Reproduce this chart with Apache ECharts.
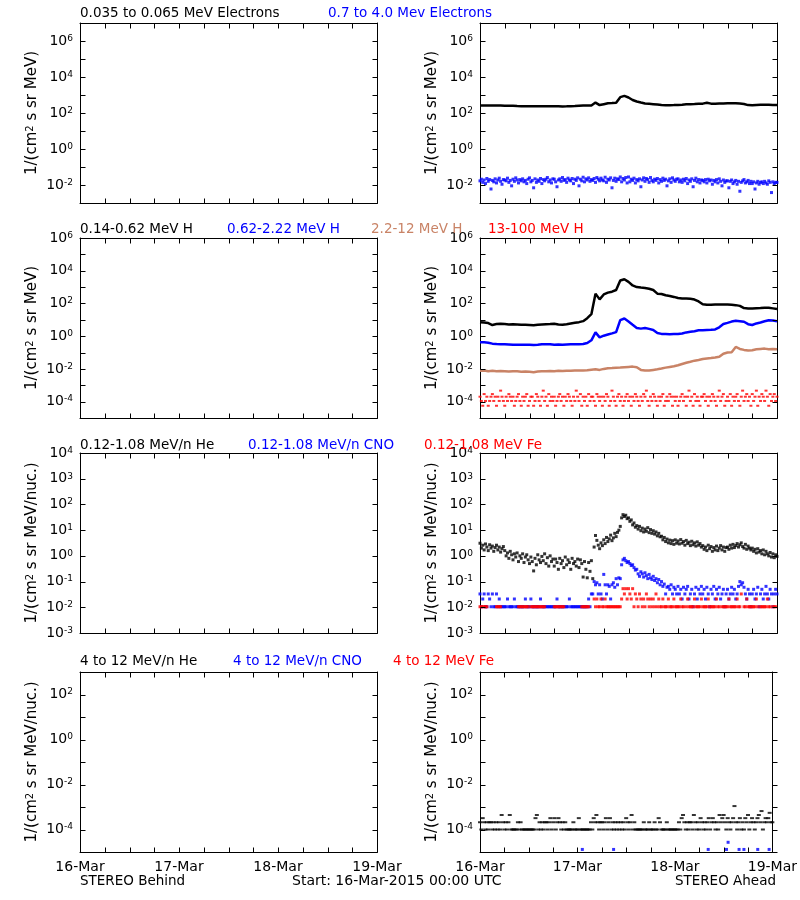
<!DOCTYPE html>
<html><head><meta charset="utf-8">
<script src="https://cdn.jsdelivr.net/npm/echarts@6/dist/echarts.min.js"></script>
<style>html,body{margin:0;padding:0;background:#fff}#chart{width:800px;height:900px}</style>
</head><body><div id="chart"></div>
<script>
// ---------------- DATA ----------------
const dayLabels = ['16-Mar', '17-Mar', '18-Mar', '19-Mar'];
const hoursPerDay = 24;
const xTickHours = [0, 6, 12, 18, 24, 30, 36, 42, 48, 54, 60, 66, 72];

const yTicksRow1 = [1e-3, 1e-2, 1e-1, 1, 1e1, 1e2, 1e3, 1e4, 1e5, 1e6, 1e7];
const yLabelsRow1 = [1e-2, 1, 1e2, 1e4, 1e6];
const yTicksRow2 = [1e-5, 1e-4, 1e-3, 1e-2, 1e-1, 1, 1e1, 1e2, 1e3, 1e4, 1e5, 1e6];
const yLabelsRow2 = [1e-4, 1e-2, 1, 1e2, 1e4, 1e6];
const yTicksRow3 = [1e-3, 1e-2, 1e-1, 1, 1e1, 1e2, 1e3, 1e4];
const yLabelsRow3 = [1e-3, 1e-2, 1e-1, 1, 1e1, 1e2, 1e3, 1e4];
const yTicksRow4 = [1e-5, 1e-4, 1e-3, 1e-2, 1e-1, 1, 1e1, 1e2, 1e3];
const yLabelsRow4 = [1e-4, 1e-2, 1, 1e2];

const yTitleMeV = '1/(cm{s|2} s sr MeV)';
const yTitleNuc = '1/(cm{s|2} s sr MeV/nuc.)';

const titleTexts = [
  ['0.035 to 0.065 MeV Electrons', '0.7 to 4.0 Mev Electrons'],
  ['0.14-0.62 MeV H', '0.62-2.22 MeV H', '2.2-12 MeV H', '13-100 MeV H'],
  ['0.12-1.08 MeV/n He', '0.12-1.08 MeV/n CNO', '0.12-1.08 MeV Fe'],
  ['4 to 12 MeV/n He', '4 to 12 MeV/n CNO', '4 to 12 MeV Fe']
];
const footerTexts = ['STEREO Behind', 'Start: 16-Mar-2015 00:00 UTC', 'STEREO Ahead'];

// STEREO Ahead, hourly samples (hours 0..72)
const elecLo = [
  263,263,263,257,263,257,251,251,251,245,240,240,
  234,240,240,234,234,240,234,234,229,234,240,245,
  251,257,257,263,380,275,309,347,355,372,759,891,
  724,525,437,380,339,324,309,295,275,269,269,275,
  282,288,302,309,316,324,331,372,331,331,339,339,
  347,347,347,339,316,275,269,282,288,288,288,282,
  282];
// 20-minute samples
const elecHi = [
  0.017,0.021,0.014,0.019,0.012,0.023,0.016,0.020,0.006,0.018,0.015,0.022,0.013,0.019,0.024,0.016,0.011,0.020,
  0.019,0.017,0.024,0.014,0.018,0.009,0.021,0.016,0.025,0.019,0.013,0.020,0.017,0.022,0.015,0.018,0.012,0.021,
  0.025,0.015,0.018,0.007,0.022,0.014,0.019,0.016,0.023,0.012,0.020,0.017,0.021,0.026,0.015,0.019,0.013,0.022,
  0.021,0.015,0.008,0.019,0.022,0.016,0.026,0.018,0.020,0.014,0.024,0.019,0.017,0.023,0.012,0.021,0.018,0.025,
  0.009,0.021,0.017,0.027,0.015,0.022,0.019,0.025,0.016,0.020,0.018,0.023,0.014,0.026,0.021,0.017,0.024,0.019,
  0.017,0.027,0.014,0.021,0.019,0.025,0.007,0.018,0.024,0.016,0.022,0.020,0.028,0.015,0.023,0.019,0.026,0.013,
  0.028,0.015,0.021,0.018,0.024,0.013,0.020,0.017,0.022,0.008,0.019,0.025,0.016,0.023,0.020,0.014,0.026,0.018,
  0.015,0.021,0.018,0.023,0.013,0.020,0.016,0.024,0.018,0.021,0.009,0.017,0.022,0.014,0.025,0.019,0.016,0.021,
  0.022,0.015,0.019,0.014,0.021,0.017,0.023,0.012,0.019,0.016,0.022,0.008,0.018,0.024,0.015,0.020,0.013,0.019,
  0.018,0.015,0.020,0.013,0.021,0.017,0.019,0.011,0.018,0.015,0.020,0.013,0.022,0.016,0.009,0.019,0.014,0.017,
  0.017,0.007,0.016,0.019,0.012,0.015,0.018,0.011,0.016,0.0045,0.014,0.017,0.020,0.013,0.015,0.018,0.012,0.016,
  0.012,0.015,0.006,0.013,0.016,0.011,0.014,0.015,0.012,0.016,0.013,0.011,0.017,0.014,0.0038,0.015,0.012,0.014,
  0.014];

// hourly
const hLo = [
  7.2,6.9,6.3,4.8,5.5,5.8,5.5,5.2,5.4,5.2,5.0,5.0,
  4.8,4.6,5.0,5.2,5.4,5.5,5.8,5.2,5.0,5.4,6.0,6.6,
  7.2,8.3,12.6,22,398,178,355,457,525,661,2512,3020,
  2089,1259,1000,933,891,794,661,398,380,316,288,251,
  214,200,200,191,174,132,89,83,83,85,85,85,
  85,83,79,71,52,50,50,51,52,55,54,50,
  46];
const hMid = [
  0.42,0.42,0.40,0.35,0.33,0.32,0.32,0.31,0.30,0.30,0.295,0.30,
  0.30,0.29,0.30,0.32,0.32,0.32,0.30,0.31,0.30,0.31,0.32,0.32,
  0.32,0.33,0.38,0.56,1.7,0.85,1.07,1.26,1.48,1.78,9.5,12,
  7.9,5.0,3.2,2.9,3.2,2.8,2.4,1.58,1.38,1.35,1.32,1.35,
  1.35,1.45,1.7,1.85,2.0,2.3,2.34,2.4,2.45,2.6,3.5,5.5,
  6.5,7.8,8.7,8.2,7.6,5.4,4.8,6.0,6.9,8.1,9.5,9.1,
  8.3];
const hHi = [
  0.0076,0.0079,0.0072,0.0076,0.0071,0.0074,0.0072,0.0069,0.0072,0.0071,0.0068,0.0069,
  0.0066,0.0063,0.0069,0.0072,0.0071,0.0074,0.0072,0.0076,0.0074,0.0078,0.0076,0.0079,
  0.0079,0.0081,0.0083,0.0089,0.0095,0.0087,0.010,0.011,0.0112,0.0117,0.012,0.0126,
  0.0132,0.0138,0.0126,0.0087,0.0079,0.0079,0.0087,0.0095,0.0105,0.012,0.0132,0.0145,
  0.0166,0.020,0.024,0.0275,0.032,0.035,0.040,0.043,0.046,0.050,0.055,0.085,
  0.10,0.105,0.22,0.166,0.145,0.132,0.138,0.158,0.166,0.174,0.158,0.166,
  0.158];
// 20-minute samples
const hVhi = [
  2e-4,1.1e-4,5.6e-5,2.9e-4,1.1e-4,2e-4,5.6e-5,1.1e-4,2e-4,2.9e-4,1.1e-4,2e-4,5.6e-5,2e-4,1.1e-4,4.7e-4,2e-4,1.1e-4,
  5.6e-5,2e-4,1.1e-4,2.9e-4,2e-4,1.1e-4,2e-4,5.6e-5,1.1e-4,2e-4,2.9e-4,1.1e-4,5.6e-5,2e-4,1.1e-4,2e-4,2.9e-4,5.6e-5,
  1.1e-4,2e-4,2e-4,5.6e-5,1.1e-4,2.9e-4,2e-4,1.1e-4,5.6e-5,2e-4,4.7e-4,1.1e-4,2e-4,5.6e-5,2.9e-4,1.1e-4,2e-4,1.1e-4,
  2e-4,5.6e-5,1.1e-4,2e-4,2.9e-4,1.1e-4,2e-4,5.6e-5,2e-4,1.1e-4,2.9e-4,2e-4,1.1e-4,5.6e-5,2e-4,1.1e-4,4.7e-4,2e-4,
  1.1e-4,2.9e-4,5.6e-5,2e-4,1.1e-4,2e-4,5.6e-5,2.9e-4,1.1e-4,2e-4,2e-4,1.1e-4,5.6e-5,2.9e-4,2e-4,1.1e-4,2e-4,5.6e-5,
  2e-4,1.1e-4,2.9e-4,2e-4,5.6e-5,1.1e-4,4.7e-4,2e-4,1.1e-4,5.6e-5,2e-4,2.9e-4,1.1e-4,2e-4,5.6e-5,1.1e-4,2e-4,2.9e-4,
  1.1e-4,2e-4,5.6e-5,2e-4,1.1e-4,2.9e-4,2e-4,1.1e-4,5.6e-5,2e-4,1.1e-4,2.9e-4,2e-4,4.7e-4,1.1e-4,5.6e-5,2e-4,1.1e-4,
  2.9e-4,2e-4,1.1e-4,5.6e-5,2e-4,1.1e-4,2e-4,2.9e-4,5.6e-5,1.1e-4,2e-4,1.1e-4,2.9e-4,2e-4,5.6e-5,2e-4,1.1e-4,2e-4,
  5.6e-5,1.1e-4,2e-4,2.9e-4,1.1e-4,2e-4,5.6e-5,2e-4,4.7e-4,1.1e-4,2e-4,5.6e-5,2.9e-4,1.1e-4,2e-4,1.1e-4,5.6e-5,2e-4,
  2e-4,2.9e-4,1.1e-4,2e-4,5.6e-5,2e-4,1.1e-4,2.9e-4,2e-4,1.1e-4,5.6e-5,2e-4,4.7e-4,1.1e-4,2e-4,2.9e-4,5.6e-5,1.1e-4,
  2e-4,1.1e-4,2.9e-4,5.6e-5,2e-4,1.1e-4,2e-4,2.9e-4,1.1e-4,5.6e-5,2e-4,4.7e-4,1.1e-4,2e-4,2.9e-4,1.1e-4,2e-4,5.6e-5,
  2.9e-4,1.1e-4,2e-4,4.7e-4,5.6e-5,2e-4,1.1e-4,2.9e-4,2e-4,1.1e-4,4.7e-4,2e-4,5.6e-5,2.9e-4,1.1e-4,2e-4,2.9e-4,1.1e-4,
  2e-4];

// 20-minute samples
const heLo = [
  3.1,2.0,2.6,1.7,2.9,2.2,1.6,2.7,2.0,2.4,1.5,2.1,2.6,1.7,2.2,1.4,1.9,2.3,
  1.6,1.0,1.3,0.8,1.5,1.1,0.7,1.2,0.9,1.3,0.6,1.0,0.8,1.2,0.55,0.9,1.1,0.7,
  0.5,0.9,0.6,0.26,0.8,0.45,1.1,0.7,0.55,0.95,0.65,1.2,0.5,0.85,0.4,1.0,0.6,0.75,
  0.4,0.75,0.55,0.3,0.8,0.5,0.65,0.35,0.9,0.45,0.7,0.55,0.3,0.8,0.5,0.6,0.4,0.75,
  0.35,0.7,0.5,0.15,0.6,0.3,0.14,0.55,0.25,0.65,0.13,2.2,6.2,4.0,2.6,1.9,3.2,2.5,
  4.2,3.0,5.2,3.6,4.6,6.4,3.9,5.0,7.5,5.6,8.2,10,14,30,40,34,38,28,
  30,22,25,16,19,13,15,11,14,9.5,12,8.5,11,9,12.5,8,10.5,7.5,
  9.5,7,8.5,6,7.5,5.5,5.8,4.2,5.2,3.6,4.5,3.2,4.1,3.0,3.9,2.8,4.2,3.1,
  3.8,2.9,4.3,3.1,3.6,2.6,4.0,3.0,3.4,2.5,3.7,2.7,3.2,2.4,3.5,2.6,3.0,2.2,
  2.5,1.8,2.2,1.6,2.6,1.9,2.3,1.5,2.1,1.7,2.4,1.6,2.0,2.5,1.7,2.2,1.5,2.1,
  2.2,1.8,2.6,2.0,2.8,2.1,2.5,3.0,2.2,2.7,3.2,2.3,2.0,2.8,1.8,2.4,2.0,1.7,
  2.0,1.5,1.8,1.3,1.9,1.4,1.6,1.2,1.7,1.1,1.5,1.2,1.0,1.35,0.9,1.2,0.85,1.1,
  0.95];
const cnoLo = [
  0.033,0.0105,0.021,0.033,0.0105,0.0105,0.033,0.021,0.0105,0.033,0.0105,0.0105,0.033,0.0105,0.021,0.0105,0.0105,0.0105,
  0.0105,0.0105,0.021,0.0105,0.0105,0.0105,0.0105,0.021,0.0105,0.0105,0.0105,0.0105,0.0105,0.0105,0.0105,0.021,0.0105,0.0105,
  0.0105,0.021,0.0105,0.0105,0.0105,0.0105,0.0105,0.0105,0.021,0.0105,0.0105,0.0105,0.0105,0.0105,0.0105,0.0105,0.0105,0.0105,
  0.0105,0.0105,0.021,0.0105,0.0105,0.0105,0.0105,0.0105,0.0105,0.0105,0.0105,0.021,0.0105,0.0105,0.0105,0.0105,0.0105,0.0105,
  0.0105,0.0105,0.0105,0.0105,0.0105,0.0105,0.0105,0.021,0.0105,0.033,0.033,0.1,0.075,0.09,0.033,0.075,0.033,0.021,
  0.19,0.075,0.033,0.075,0.065,0.021,0.075,0.09,0.06,0.13,0.075,0.14,0.13,0.45,0.7,0.8,0.65,0.55,
  0.6,0.5,0.42,0.45,0.35,0.28,0.3,0.2,0.16,0.24,0.2,0.15,0.22,0.17,0.13,0.19,0.14,0.12,
  0.16,0.11,0.13,0.09,0.12,0.075,0.1,0.065,0.08,0.033,0.06,0.065,0.05,0.075,0.033,0.06,0.05,0.033,
  0.065,0.033,0.05,0.021,0.06,0.033,0.05,0.065,0.021,0.033,0.05,0.0105,0.033,0.06,0.021,0.05,0.033,0.065,
  0.033,0.05,0.021,0.06,0.033,0.0105,0.05,0.033,0.065,0.021,0.05,0.033,0.06,0.021,0.033,0.05,0.0105,0.033,
  0.05,0.021,0.033,0.06,0.033,0.05,0.021,0.033,0.065,0.1,0.075,0.09,0.06,0.033,0.021,0.05,0.033,0.0105,
  0.033,0.05,0.021,0.033,0.06,0.0105,0.033,0.05,0.021,0.033,0.065,0.033,0.021,0.05,0.033,0.0105,0.033,0.05,
  0.033];
const feLo = [
  0.0105,0.0105,0.0105,0.0105,0.0105,0.0105,null,null,null,null,null,null,0.0105,0.0105,0.0105,0.0105,null,null,
  null,null,null,null,null,null,null,null,null,null,0.0105,0.0105,0.0105,0.0105,0.0105,0.0105,0.0105,0.0105,
  null,0.0105,0.0105,0.0105,0.0105,0.0105,0.0105,0.0105,0.0105,0.0105,0.0105,0.0105,null,null,null,null,null,null,
  0.0105,0.0105,0.0105,0.0105,0.0105,0.0105,0.0105,0.0105,null,null,null,null,null,null,null,null,null,null,
  null,null,0.0105,0.0105,0.0105,0.0105,0.0105,0.0105,null,null,null,0.021,0.0105,0.021,0.0105,0.0105,0.021,0.0105,
  0.0105,0.021,0.0105,0.0105,0.0105,0.0105,0.0105,0.0105,0.0105,0.0105,0.0105,0.0105,0.0105,0.021,0.053,0.033,0.053,0.021,
  0.053,0.033,0.021,0.053,0.0105,0.033,0.021,0.0105,0.033,0.021,0.0105,0.021,0.0105,0.033,0.021,0.0105,0.021,0.0105,
  0.021,0.0105,0.033,0.0105,0.021,0.0105,0.0105,0.021,0.0105,0.0105,0.0105,0.021,0.0105,0.0105,0.0105,0.021,0.0105,0.0105,
  0.0105,0.0105,0.021,0.0105,0.0105,null,0.0105,0.021,0.0105,0.0105,0.0105,0.0105,0.021,0.0105,0.0105,0.0105,0.0105,0.021,
  0.0105,0.0105,0.0105,0.0105,0.021,0.0105,0.0105,0.0105,0.0105,0.0105,0.021,0.0105,0.0105,null,0.0105,0.0105,0.0105,0.0105,
  0.0105,0.021,0.0105,0.0105,0.0105,0.0105,0.0105,0.021,0.0105,0.0105,0.033,null,0.0105,0.0105,0.021,0.0105,0.0105,0.0105,
  0.0105,0.0105,0.0105,0.021,0.0105,null,0.0105,0.0105,0.0105,0.0105,0.0105,0.021,0.0105,0.0105,null,0.0105,0.0105,0.0105,
  null];
// 20-minute samples
const he4 = [
  2.1e-4,1e-4,3.2e-4,2.1e-4,1e-4,2.1e-4,1e-4,2.1e-4,2.1e-4,1e-4,2.1e-4,1e-4,2.1e-4,1e-4,2.1e-4,1e-4,4.4e-4,2.1e-4,
  1e-4,2.1e-4,1e-4,2.1e-4,4.4e-4,1e-4,1e-4,1e-4,1e-4,1e-4,2.1e-4,1e-4,2.1e-4,1e-4,1e-4,1e-4,1e-4,1e-4,
  1e-4,1e-4,1e-4,1e-4,1e-4,3.2e-4,4.4e-4,1e-4,2.1e-4,1e-4,2.1e-4,1e-4,2.1e-4,2.1e-4,1e-4,2.1e-4,3.2e-4,1e-4,
  2.1e-4,3.2e-4,1e-4,2.1e-4,3.2e-4,2.1e-4,1e-4,2.1e-4,1e-4,2.1e-4,1e-4,1e-4,1e-4,1e-4,1e-4,2.1e-4,1e-4,1e-4,
  1e-4,3.2e-4,1e-4,1e-4,1e-4,1e-4,1e-4,1e-4,1e-4,1e-4,2.1e-4,1e-4,3.2e-4,2.1e-4,4.4e-4,2.1e-4,1e-4,2.1e-4,
  2.1e-4,1e-4,2.1e-4,3.2e-4,1e-4,2.1e-4,3.2e-4,1e-4,2.1e-4,1e-4,2.1e-4,1e-4,2.1e-4,1e-4,2.1e-4,1e-4,2.1e-4,1e-4,
  3.2e-4,2.1e-4,1e-4,2.1e-4,4.4e-4,1e-4,2.1e-4,1e-4,1e-4,1e-4,1e-4,1e-4,1e-4,2.1e-4,1e-4,1e-4,1e-4,2.1e-4,
  1e-4,1e-4,1e-4,2.1e-4,1e-4,1e-4,3.2e-4,2.1e-4,1e-4,1e-4,1e-4,1e-4,2.1e-4,1e-4,1e-4,1e-4,1e-4,1e-4,
  1e-4,1e-4,1e-4,2.1e-4,1e-4,3.2e-4,4.4e-4,2.1e-4,1e-4,2.1e-4,1e-4,2.1e-4,2.1e-4,1e-4,4.4e-4,2.1e-4,1e-4,2.1e-4,
  1e-4,3.2e-4,2.1e-4,1e-4,2.1e-4,1e-4,2.1e-4,3.2e-4,1e-4,2.1e-4,3.2e-4,2.1e-4,1e-4,2.1e-4,1e-4,4.4e-4,2.1e-4,3.2e-4,
  4.4e-4,2.1e-4,1e-4,3.2e-4,2.1e-4,1e-4,2.1e-4,3.2e-4,1.1e-3,2.1e-4,1e-4,2.1e-4,3.2e-4,1e-4,2.1e-4,1e-4,3.2e-4,2.1e-4,
  4.4e-4,1e-4,2.1e-4,3.2e-4,2.1e-4,1e-4,2.1e-4,3.2e-4,4.4e-4,2.1e-4,6.6e-4,1e-4,2.1e-4,3.2e-4,2.1e-4,3.2e-4,5.5e-4,2.1e-4,
  2.1e-4];
const cno4Hours = [25.2, 32.9, 56.2, 60.7, 61.1, 63.8, 65.0, 68.4, 71.2];
const cno4Vals  = [1.3e-5, 1.3e-5, 1.3e-5, 1.3e-5, 2.7e-5, 1.3e-5, 1.3e-5, 1.3e-5, 1.3e-5];

// ---------------- LAYOUT / STYLE ----------------
const FONT = 'DejaVu Sans';
const BLUE = '#0000ff', RED = '#ff0000', BROWN = '#c98366', BLACK = '#000000';
const rowTops = [23, 238, 453, 672];
const colLefts = [80, 480];
const PW = 297, PH = 180;
const TICK_LEN = 5;
const rowSpecs = [
  { min: 1e-3, max: 1e7, ticks: yTicksRow1, labels: yLabelsRow1, name: yTitleMeV },
  { min: 1e-5, max: 1e6, ticks: yTicksRow2, labels: yLabelsRow2, name: yTitleMeV },
  { min: 1e-3, max: 1e4, ticks: yTicksRow3, labels: yLabelsRow3, name: yTitleNuc },
  { min: 1e-5, max: 1e3, ticks: yTicksRow4, labels: yLabelsRow4, name: yTitleNuc }
];
const titleX = [[80, 328], [80, 227, 371, 488], [80, 248, 424], [80, 233, 393]];
const titleColors = [[BLACK, BLUE], [BLACK, BLUE, BROWN, RED], [BLACK, BLUE, RED], [BLACK, BLUE, RED]];
const titleY = [13, 229, 445, 661];

function series1(vals, stepH) {
  const out = [];
  vals.forEach((v, i) => { if (v != null) out.push([i * stepH, v]); });
  return out;
}
function seriesXY(xs, vs) { return xs.map((x, i) => [x, vs[i]]); }

const grids = [], xAxes = [], yAxes = [];
const frameLine = { show: true, onZero: false, lineStyle: { color: BLACK, width: 1 } };
for (let r = 0; r < 4; r++) {
  for (let c = 0; c < 2; c++) {
    const g = r * 2 + c;
    const spec = rowSpecs[r];
    grids.push({ left: colLefts[c], top: rowTops[r], width: PW, height: PH });
    xAxes.push({
      gridIndex: g, type: 'value', min: 0, max: 72, interval: 24, position: 'bottom',
      axisLine: frameLine, axisTick: { show: false }, splitLine: { show: false },
      axisLabel: {
        show: r === 3, margin: 8, showMinLabel: true, showMaxLabel: true, hideOverlap: false,
        formatter: v => dayLabels[Math.round(v / hoursPerDay)],
        color: BLACK, fontFamily: FONT, fontSize: 14
      }
    });
    xAxes.push({
      gridIndex: g, type: 'value', min: 0, max: 72, interval: 24, position: 'top',
      axisLine: frameLine, axisTick: { show: false }, splitLine: { show: false }, axisLabel: { show: false }
    });
    yAxes.push({
      gridIndex: g, type: 'log', logBase: 10, min: spec.min, max: spec.max, position: 'left',
      axisLine: frameLine, axisTick: { show: false }, minorTick: { show: false }, splitLine: { show: false },
      axisLabel: {
        customValues: spec.labels, margin: 7, color: BLACK, fontFamily: FONT, fontSize: 14,
        formatter: v => '{b|10}{s|' + Math.round(Math.log10(v)) + '}',
        rich: {
          b: { fontFamily: FONT, fontSize: 14, color: BLACK },
          s: { fontFamily: FONT, fontSize: 9, color: BLACK, verticalAlign: 'top' }
        }
      },
      name: spec.name, nameLocation: 'middle', nameGap: 40, nameRotate: 90,
      nameTextStyle: {
        fontFamily: FONT, fontSize: 15, color: BLACK,
        rich: { s: { fontFamily: FONT, fontSize: 10, color: BLACK, verticalAlign: 'top' } }
      }
    });
    yAxes.push({
      gridIndex: g, type: 'log', logBase: 10, min: spec.min, max: spec.max, position: 'right',
      axisLine: frameLine, axisTick: { show: false }, minorTick: { show: false }, splitLine: { show: false },
      axisLabel: { show: false }
    });
  }
}

function lineS(g, data, color) {
  return { type: 'line', xAxisIndex: g * 2, yAxisIndex: g * 2, data, showSymbol: false,
    lineStyle: { color, width: 2.5 }, itemStyle: { color }, animation: false };
}
function dotS(g, data, color, size) {
  return { type: 'scatter', xAxisIndex: g * 2, yAxisIndex: g * 2, data, symbol: 'rect',
    symbolSize: size, itemStyle: { color }, animation: false };
}

const series = [
  lineS(1, series1(elecLo, 1), BLACK),
  dotS(1, series1(elecHi, 1 / 3), BLUE, [3, 3]),
  lineS(3, series1(hLo, 1), BLACK),
  lineS(3, series1(hMid, 1), BLUE),
  lineS(3, series1(hHi, 1), BROWN),
  dotS(3, series1(hVhi, 1 / 3), RED, [3, 2]),
  dotS(5, series1(heLo, 1 / 3), BLACK, [3, 3]),
  dotS(5, series1(cnoLo, 1 / 3), BLUE, [3, 3]),
  dotS(5, series1(feLo, 1 / 3), RED, [3, 3]),
  dotS(7, series1(he4, 1 / 3), BLACK, [4, 2]),
  dotS(7, seriesXY(cno4Hours, cno4Vals), BLUE, [3, 3])
];

const chart = echarts.init(document.getElementById('chart'), null, { renderer: 'canvas' });
chart.setOption({
  animation: false,
  backgroundColor: '#ffffff',
  grid: grids, xAxis: xAxes, yAxis: yAxes, series: series
});

// ---- texts and tick marks (tick positions come from the axes' own scales) ----
const graphics = [];
function txt(x, y, text, color, size, align) {
  graphics.push({ type: 'text', x, y, silent: true, z: 50,
    style: { text, fill: color, fontFamily: FONT, fontSize: size, verticalAlign: 'middle', align } });
}
function seg(x1, y1, x2, y2) {
  graphics.push({ type: 'line', silent: true, z: 50,
    shape: { x1, y1, x2, y2 }, style: { stroke: BLACK, lineWidth: 1 } });
}
titleTexts.forEach((row, r) => row.forEach((t, k) => txt(titleX[r][k], titleY[r], t, titleColors[r][k], 13.5, 'left')));
txt(80, 881, footerTexts[0], BLACK, 13.5, 'left');
txt(292, 881, footerTexts[1], BLACK, 14, 'left');
txt(776, 881, footerTexts[2], BLACK, 13.5, 'right');

for (let g = 0; g < 8; g++) {
  const r = Math.floor(g / 2), c = g % 2;
  const left = colLefts[c] + 0.5, right = colLefts[c] + PW + 0.5;
  const top = rowTops[r] + 0.5, bottom = rowTops[r] + PH + 0.5;
  xTickHours.forEach(h => {
    const px = Math.round(chart.convertToPixel({ xAxisIndex: g * 2 }, h)) + 0.5;
    seg(px, bottom, px, bottom - TICK_LEN);
    seg(px, top, px, top + TICK_LEN);
  });
  rowSpecs[r].ticks.forEach(v => {
    const py = Math.round(chart.convertToPixel({ yAxisIndex: g * 2 }, v)) + 0.5;
    seg(left, py, left + TICK_LEN, py);
    seg(right, py, right - TICK_LEN, py);
  });
}
chart.setOption({ graphic: graphics });
</script></body></html>
